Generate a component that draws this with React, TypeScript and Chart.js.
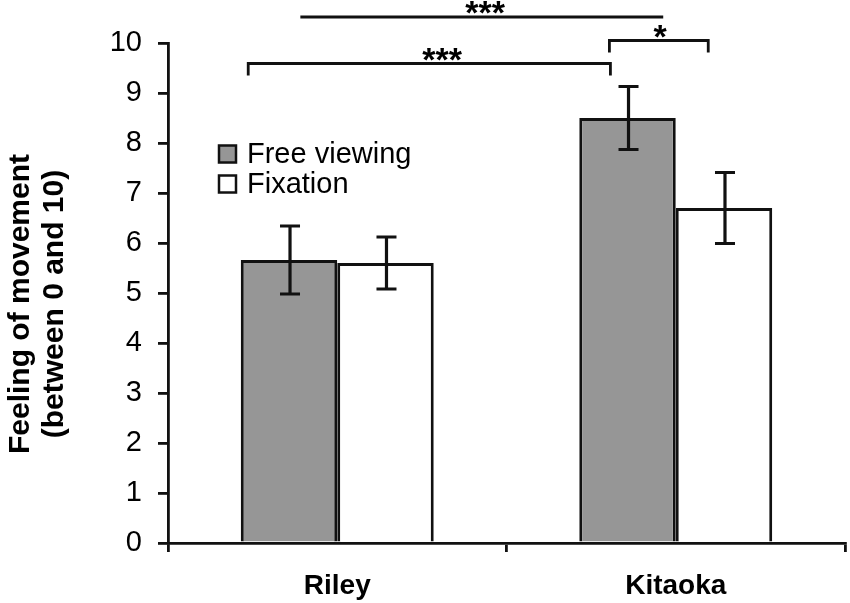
import React, { useEffect, useRef } from 'react';
import { Chart, registerables } from 'chart.js';

Chart.register(...registerables);

const categories = ['Riley', 'Kitaoka'];
const seriesLabels = ['Free viewing', 'Fixation'];
const freeViewing = [5.66, 8.5];
const fixation = [5.6, 6.7];
const freeViewingErr = [0.68, 0.63];
const fixationErr = [0.52, 0.71];
const yTitle = ['Feeling of movement', '(between 0 and 10)'];
const sigLabels = ['***', '***', '*'];

const FONT = '"Liberation Sans", Arial, Helvetica, sans-serif';
const INK = '#111111';

const overlayPlugin = {
  id: 'overlay',
  afterDatasetsDraw(chart: any) {
    const ctx = chart.ctx as CanvasRenderingContext2D;
    const xs = chart.scales.x;
    const ys = chart.scales.y;
    const errs = [freeViewingErr, fixationErr];
    ctx.save();
    ctx.strokeStyle = INK;
    ctx.lineWidth = 3.2;
    ctx.lineCap = 'butt';
    // error bars
    chart.data.datasets.forEach((ds: any, di: number) => {
      const meta = chart.getDatasetMeta(di);
      meta.data.forEach((bar: any, i: number) => {
        const v = ds.data[i];
        const e = errs[di][i];
        const cx = bar.x + 1;
        const yt = ys.getPixelForValue(v + e);
        const yb = ys.getPixelForValue(v - e);
        ctx.beginPath();
        ctx.moveTo(cx, yt);
        ctx.lineTo(cx, yb);
        ctx.moveTo(cx - 10, yt);
        ctx.lineTo(cx + 10, yt);
        ctx.moveTo(cx - 10, yb);
        ctx.lineTo(cx + 10, yb);
        ctx.stroke();
      });
    });

    // significance brackets
    const cw = (xs.right - xs.left) / categories.length;
    const px = (cat: number, frac: number) => xs.getPixelForValue(cat) + frac * cw;
    const brackets = [
      { x1: px(0, -0.109), x2: px(1, -0.037), y: 10.52, drop: null as number | null, lx: px(0, 0.437), label: sigLabels[0] },
      { x1: px(0, -0.263), x2: px(1, -0.193), y: 9.59, drop: 9.35, lx: px(0, 0.31), label: sigLabels[1] },
      { x1: px(1, -0.196), x2: px(1, 0.096), y: 10.05, drop: 9.81, lx: px(1, -0.046), label: sigLabels[2] },
    ];
    ctx.lineWidth = 2.8;
    ctx.fillStyle = '#000';
    ctx.font = `bold 34px ${FONT}`;
    ctx.textAlign = 'center';
    ctx.textBaseline = 'alphabetic';
    brackets.forEach((b) => {
      const yy = ys.getPixelForValue(b.y);
      ctx.beginPath();
      if (b.drop !== null) {
        const yd = ys.getPixelForValue(b.drop);
        ctx.moveTo(b.x1, yd);
        ctx.lineTo(b.x1, yy);
        ctx.lineTo(b.x2, yy);
        ctx.lineTo(b.x2, yd);
      } else {
        ctx.moveTo(b.x1, yy);
        ctx.lineTo(b.x2, yy);
      }
      ctx.stroke();
      ctx.fillText(b.label, b.lx, yy + 7);
    });

    // legend
    const colors = [chart.data.datasets[0].backgroundColor, chart.data.datasets[1].backgroundColor];
    const lx = chart.chartArea.left + 51;
    const ly = [145.5, 175.5];
    ctx.font = `29px ${FONT}`;
    ctx.textAlign = 'left';
    seriesLabels.forEach((lab, i) => {
      ctx.fillStyle = colors[i];
      ctx.fillRect(lx, ly[i], 17, 17);
      ctx.lineWidth = 2.5;
      ctx.strokeStyle = INK;
      ctx.strokeRect(lx, ly[i], 17, 17);
      ctx.fillStyle = '#000';
      ctx.fillText(lab, lx + 28, ly[i] + 17.5);
    });

    // y title
    ctx.font = `bold 30px ${FONT}`;
    ctx.textAlign = 'center';
    const tx = [28.5, 63];
    yTitle.forEach((t, i) => {
      ctx.save();
      ctx.translate(tx[i], 304);
      ctx.rotate(-Math.PI / 2);
      ctx.fillText(t, 0, 0);
      ctx.restore();
    });
    ctx.restore();
  },
};

export default function App() {
  const ref = useRef<HTMLCanvasElement | null>(null);
  useEffect(() => {
    if (!ref.current) return;
    const chart = new Chart(ref.current, {
      type: 'bar',
      data: {
        labels: categories,
        datasets: [
          {
            label: seriesLabels[0],
            data: freeViewing,
            backgroundColor: '#969696',
            borderColor: INK,
            borderWidth: 3,
            barPercentage: 1,
            categoryPercentage: 0.57,
          },
          {
            label: seriesLabels[1],
            data: fixation,
            backgroundColor: '#ffffff',
            borderColor: INK,
            borderWidth: 3,
            barPercentage: 1,
            categoryPercentage: 0.57,
          },
        ],
      },
      options: {
        responsive: false,
        animation: false,
        layout: { padding: { top: 43, right: 5, left: 0, bottom: 0 } },
        plugins: { legend: { display: false }, tooltip: { enabled: false } },
        scales: {
          x: {
            grid: { display: true, drawOnChartArea: false, drawTicks: true, tickLength: 9, color: INK, lineWidth: 2.8, offset: true },
            border: { color: INK, width: 2.8 },
            ticks: { color: '#000', font: { family: FONT, size: 28, weight: 'bold' }, padding: 17 },
            afterFit: (s: any) => { s.height = 60; },
          },
          y: {
            min: 0,
            max: 10,
            ticks: { stepSize: 1, color: '#000', font: { family: FONT, size: 29 }, padding: 16 },
            grid: { drawOnChartArea: false, drawTicks: true, tickLength: 10, color: INK, lineWidth: 2.8 },
            border: { color: INK, width: 2.8 },
            afterFit: (s: any) => { s.width = 168; },
          },
        },
      } as any,
      plugins: [overlayPlugin],
    });
    return () => chart.destroy();
  }, []);
  return (
    <div style={{ position: 'fixed', left: 0, top: 0, width: 850, height: 603, background: '#fff' }}>
      <canvas ref={ref} width={850} height={603} />
    </div>
  );
}
